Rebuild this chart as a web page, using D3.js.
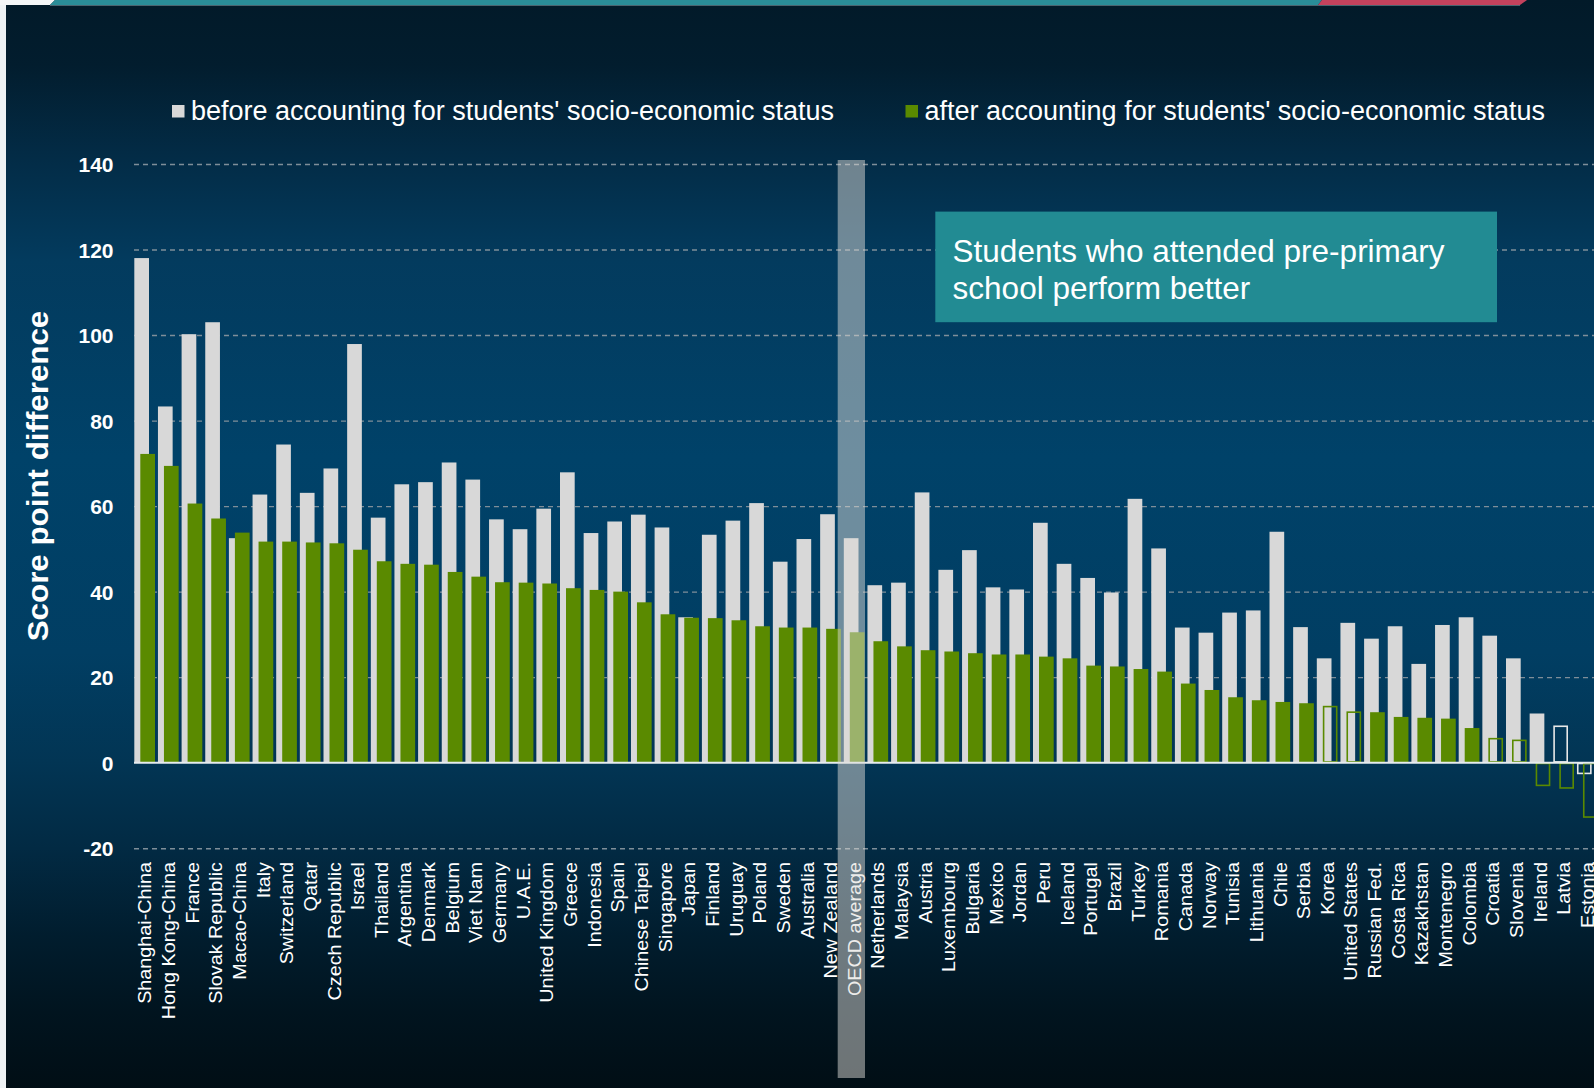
<!DOCTYPE html>
<html><head><meta charset="utf-8">
<script src="https://cdn.jsdelivr.net/npm/d3@7"></script>
<style>html,body{margin:0;padding:0;background:#021a29;overflow:hidden}</style>
</head><body><svg id="c" width="1594" height="1088"></svg>
<script>
const categories = ["Shanghai-China","Hong Kong-China","France","Slovak Republic","Macao-China","Italy","Switzerland","Qatar","Czech Republic","Israel","Thailand","Argentina","Denmark","Belgium","Viet Nam","Germany","U.A.E.","United Kingdom","Greece","Indonesia","Spain","Chinese Taipei","Singapore","Japan","Finland","Uruguay","Poland","Sweden","Australia","New Zealand","OECD average","Netherlands","Malaysia","Austria","Luxembourg","Bulgaria","Mexico","Jordan","Peru","Iceland","Portugal","Brazil","Turkey","Romania","Canada","Norway","Tunisia","Lithuania","Chile","Serbia","Korea","United States","Russian Fed.","Costa Rica","Kazakhstan","Montenegro","Colombia","Croatia","Slovenia","Ireland","Latvia","Estonia"];
const beforeValues = [118.0,83.3,100.2,103.0,52.5,62.7,74.4,63.1,68.8,97.9,57.3,65.1,65.6,70.2,66.2,56.9,54.6,59.4,67.9,53.7,56.4,58.0,55.0,34.0,53.3,56.6,60.7,47.0,52.3,58.1,52.5,41.5,42.1,63.2,45.1,49.7,41.0,40.5,56.1,46.5,43.2,39.8,61.7,50.1,31.6,30.4,35.1,35.6,54.0,31.7,24.4,32.7,29.0,31.9,23.1,32.2,34.0,29.7,24.4,11.5,8.7,-2.7];
const afterValues = [72.2,69.4,60.6,57.1,53.8,51.7,51.7,51.5,51.3,49.8,47.1,46.5,46.3,44.6,43.5,42.2,42.1,41.9,40.8,40.4,40.0,37.5,34.7,33.9,33.8,33.3,31.9,31.6,31.6,31.3,30.5,28.4,27.2,26.3,26.0,25.6,25.3,25.3,24.8,24.4,22.7,22.5,21.9,21.3,18.5,17.0,15.3,14.6,14.2,13.9,13.3,12.0,11.8,10.7,10.5,10.3,8.1,5.8,5.4,-5.5,-6.1,-12.9];
const beforeNotSignificant = ["Latvia","Estonia"];
const afterNotSignificant = ["Korea","United States","Croatia","Slovenia","Ireland","Latvia","Estonia"];
const yTicks = [-20,0,20,40,60,80,100,120,140];
const legendLabels = ["before accounting for students' socio-economic status","after accounting for students' socio-economic status"];
const annotationLines = ["Students who attended pre-primary","school perform better"];
const yTitle = "Score point difference";
const highlightCategory = "OECD average";

const W = 1594, H = 1088;
const GRAY = "#d8d8d8", GREEN = "#5a8a00";
const svg = d3.select("#c");
const FONT = "'Liberation Sans', Arial, Helvetica, sans-serif";

// background
const defs = svg.append("defs");
const lg = defs.append("linearGradient").attr("id","bg").attr("x1",0).attr("y1",0).attr("x2",0).attr("y2",1);
[[0,"#021a29"],[0.06,"#021d2e"],[0.14,"#032b45"],[0.24,"#033b5e"],[0.42,"#004269"],[0.6,"#013e63"],[0.7,"#023554"],[0.78,"#022a43"],[0.86,"#011d2e"],[0.93,"#01141f"],[1,"#010e15"]]
  .forEach(s => lg.append("stop").attr("offset",s[0]).attr("stop-color",s[1]));
svg.append("rect").attr("width",W).attr("height",H).attr("fill","url(#bg)");
svg.append("rect").attr("x",0).attr("y",0).attr("width",6).attr("height",H).attr("fill","#eef2f4");
svg.append("polygon").attr("points","0,0 55,0 50,5 0,5").attr("fill","#f4f6f7");
svg.append("polygon").attr("points","55,0 1322,0 1318,5 50,5").attr("fill","#2a8d98");
svg.append("polygon").attr("points","1322,0 1527,0 1520,5 1318,5").attr("fill","#c4425d");
svg.append("line").attr("x1",50).attr("x2",1520).attr("y1",5.5).attr("y2",5.5).attr("stroke","#4a6470").attr("stroke-width",1);

// scales
const x = d3.scaleBand().domain(categories).range([133, 133 + categories.length * 23.65]).padding(0);
const y = d3.scaleLinear().domain([-20, 140]).range([848.2, 164]);

// gridlines
const grid = svg.append("g").attr("transform","translate(134,0)")
  .call(d3.axisLeft(y).tickValues(yTicks.filter(v => v !== 0)).tickSize(-(W - 134)).tickFormat(""));
grid.select(".domain").remove();
grid.selectAll("line").attr("stroke","#7f8e99").attr("stroke-width",1.4).attr("stroke-dasharray","5,4");

// y axis labels
const yAxis = svg.append("g").attr("transform","translate(134,0)")
  .call(d3.axisLeft(y).tickValues(yTicks).tickSize(0).tickPadding(20.5).tickFormat(d => String(d)));
yAxis.select(".domain").remove();
yAxis.selectAll("text").attr("fill","#ffffff").style("font-family",FONT).style("font-size","21px").style("font-weight","bold").attr("dy","0.36em");

// y title
svg.append("text").attr("transform","translate(38,476) rotate(-90) scale(1.08,1)")
  .attr("text-anchor","middle").attr("dy","0.36em").attr("fill","#fff")
  .style("font-family",FONT).style("font-size","29px").style("font-weight","bold").text(yTitle);

const rows = categories.map((c,i) => ({c, b: beforeValues[i], a: afterValues[i],
  bs: !beforeNotSignificant.includes(c), as: !afterNotSignificant.includes(c)}));
const BW = 14.7;
function drawBars(cls, key, off, sigKey, fillColor, strokeColor) {
  svg.append("g").selectAll("g." + cls).data(rows).join("g").attr("class", cls).each(function(d){
    const v = d[key], g = d3.select(this);
    const x0 = x(d.c) + off, y0 = y(Math.max(0, v)), h = Math.abs(y(v) - y(0));
    if (d[sigKey]) {
      g.append("rect").attr("x",x0).attr("y",y0).attr("width",BW).attr("height",h).attr("fill",fillColor);
    } else {
      g.append("rect").attr("x",x0+0.8).attr("y",y0+0.8).attr("width",BW-1.6).attr("height",Math.max(0,h-1.6))
        .attr("fill","none").attr("stroke",strokeColor).attr("stroke-width",1.6);
    }
  });
}
drawBars("b", "b", 1.3, "bs", GRAY, "#e8e8e8");
drawBars("a", "a", 7.3, "as", GREEN, GREEN);

// zero line
svg.append("line").attr("x1",134).attr("x2",W).attr("y1",y(0)).attr("y2",y(0)).attr("stroke","#e6ecef").attr("stroke-width",2);

// x labels
const xAxis = svg.append("g").attr("transform","translate(0,862)")
  .call(d3.axisBottom(x).tickSize(0).tickPadding(0));
xAxis.select(".domain").remove();
xAxis.selectAll("text").attr("y",0).attr("x",0).attr("dy","0.35em")
  .attr("transform","rotate(-90) scale(1.07,1)").attr("text-anchor","end")
  .attr("fill","#fff").style("font-family",FONT).style("font-size","18.5px");

// OECD highlight band
svg.append("rect").attr("x", x(highlightCategory) - 4.8).attr("y",160).attr("width",27.3).attr("height",918)
  .attr("fill","rgba(220,218,214,0.5)");

// annotation
svg.append("rect").attr("x",935.3).attr("y",211.6).attr("width",561.7).attr("height",110.6).attr("fill","#228b93");
annotationLines.forEach((t,i) => svg.append("text").attr("x",952.6).attr("y",262 + i*37)
  .attr("fill","#fff").style("font-family",FONT).style("font-size","31.5px").text(t));

// legend
const legendColors = [GRAY, GREEN];
const legendX = [172, 905.5];
legendLabels.forEach((t,i) => {
  svg.append("rect").attr("x",legendX[i]).attr("y",105).attr("width",12.5).attr("height",12.5).attr("fill",legendColors[i]);
  svg.append("text").attr("x",legendX[i]+19).attr("y",120).attr("fill","#fff")
    .style("font-family",FONT).style("font-size","27px").text(t);
});
</script></body></html>
